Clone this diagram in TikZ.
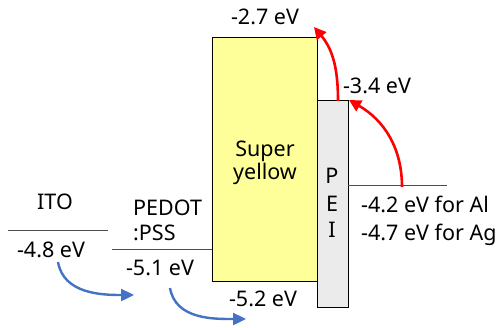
\documentclass[tikz,border=0pt]{standalone}
\usepackage{fontspec}
\setmainfont{Noto Sans}
\usetikzlibrary{arrows.meta}
\begin{document}
\begin{tikzpicture}[x=1pt,y=-1pt,
  lbl/.style={inner sep=0pt,font=\fontsize{21.5}{24}\selectfont},
  lvl/.style={draw=black!70,line width=0.9pt},
  redarr/.style={draw=red,line width=2.6pt,-{Triangle[length=12pt,width=12pt]}},
  bluearr/.style={draw={rgb,255:red,68;green,114;blue,196},line width=2.4pt,-{Triangle[length=13pt,width=12pt]}}]
\useasboundingbox (0,0) rectangle (501,327);
% boxes
\node[draw,line width=1.2pt,fill={rgb,255:red,255;green,255;blue,153},minimum width=105pt,minimum height=244pt,inner sep=0pt,anchor=north west] (sy) at (212,37) {};
\node[draw,line width=1.2pt,fill=black!8,minimum width=31pt,minimum height=207pt,inner sep=0pt,anchor=north west] (pei) at (317,100) {};
\node[lbl,align=center] (sytext) at (265,163) {Super\\[-1pt]yellow};
\node[lbl] (p) at (332,176) {P};
\node[lbl] (e) at (332,204) {E};
\node[lbl] (i) at (332,230) {I};
% levels
\coordinate (ito1) at (8,230);
\coordinate (ito2) at (108,230);
\draw[lvl] (ito1) -- (ito2);
\coordinate (ped1) at (112,249);
\coordinate (ped2) at (212,249);
\draw[lvl] (ped1) -- (ped2);
\coordinate (met1) at (348,185);
\coordinate (met2) at (447,185);
\draw[lvl] (met1) -- (met2);
% labels
\node[lbl] (itot) at (55,202) {ITO};
\node[lbl] (ito48) at (51,250) {-4.8 eV};
\node[lbl,anchor=west] (pedot) at (133,208) {PEDOT};
\node[lbl,anchor=west] (pss) at (133,233) {:PSS};
\node[lbl] (p51) at (160,268) {-5.1 eV};
\node[lbl] (p52) at (263,299) {-5.2 eV};
\node[lbl] (p27) at (265,17) {-2.7 eV};
\node[lbl] (p34) at (377,86) {-3.4 eV};
\node[lbl,anchor=west] (al) at (361,204) {-4.2 eV for Al};
\node[lbl,anchor=west] (ag) at (361,235) {-4.7 eV for Ag};
% arrows
\coordinate (r1s) at (402,187);
\coordinate (r1e) at (349,100);
\draw[redarr] (r1s) to[out=90,in=-30] (r1e);
\coordinate (r2s) at (338,101);
\coordinate (r2e) at (314,27);
\draw[redarr] (r2s) to[out=90,in=-50] (r2e);
\coordinate (b1s) at (58,262);
\coordinate (b1e) at (134,295);
\draw[bluearr] (b1s) to[out=-80,in=180] (b1e);
\coordinate (b2s) at (170,288);
\coordinate (b2e) at (246,319);
\draw[bluearr] (b2s) to[out=-80,in=180] (b2e);
\end{tikzpicture}
\end{document}
